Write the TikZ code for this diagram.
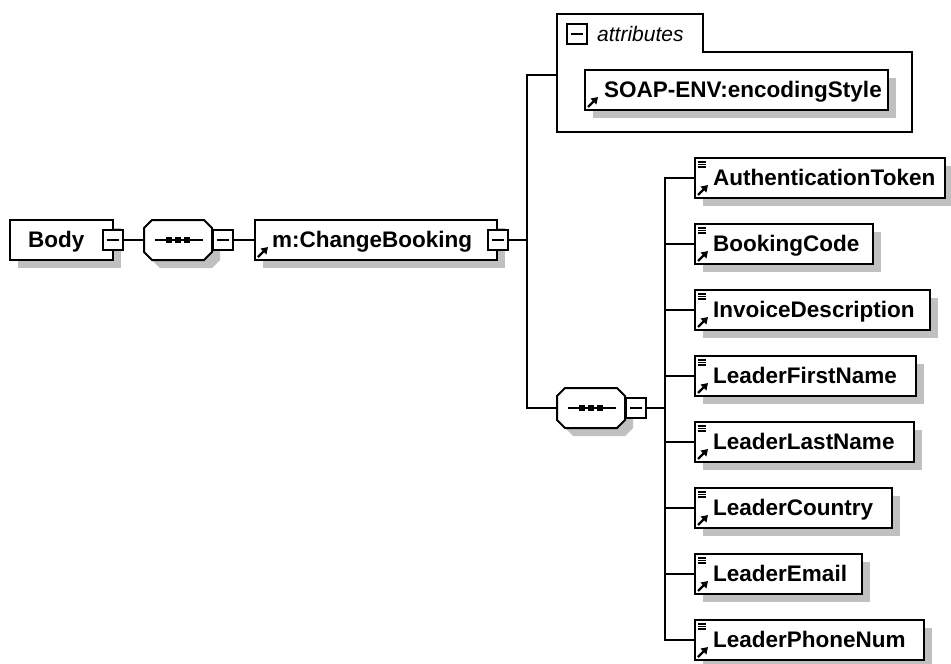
\documentclass[tikz,border=0pt]{standalone}
\usepackage{fontspec}
\setmainfont{Liberation Sans}
\usetikzlibrary{arrows.meta}
\definecolor{shadowc}{RGB}{192,192,192}
\tikzset{
 box/.style={draw=black, fill=white, line width=2pt, inner sep=0pt, outer sep=0pt, minimum height=40pt, anchor=north west},
 lbl/.style={inner sep=0pt, anchor=base west, font=\fontsize{22.5}{27}\selectfont\bfseries},
 attrlbl/.style={inner sep=0pt, anchor=base west, font=\fontsize{21}{25}\selectfont\itshape},
 conn/.style={line width=2pt, draw=black},
 mbox/.style={draw=black, fill=white, line width=2pt, inner sep=0pt, outer sep=0pt, minimum size=20pt},
 refarrow/.style={line width=2.2pt, -{Triangle[length=6.5pt,width=8pt]}},
 lst/.style={line width=1.2pt},
 seqbox/.style={inner sep=0pt, outer sep=0pt, minimum width=68pt, minimum height=40pt},
}
\newcommand\minusbox[3]{%
 \node[mbox] (#1) at (#2,#3) {};
 \draw[line width=1.6pt] ([xshift=4pt]#1.west) -- ([xshift=-4pt]#1.east);}
\newcommand\oct[3]{%
 \path[#3] (#1+8,#2-20) -- (#1+60,#2-20) -- (#1+68,#2-12) -- (#1+68,#2+12) -- (#1+60,#2+20) -- (#1+8,#2+20) -- (#1,#2+12) -- (#1,#2-12) -- cycle;}
\newcommand\seqnode[3]{% name, left x, centre y
 \oct{#2+8}{#3+8}{fill=shadowc}
 \oct{#2}{#3}{draw=black, fill=white, line width=2pt}
 \node[seqbox] (#1) at (#2+34,#3) {};
 \draw[line width=1.6pt] ([xshift=11pt]#1.west) -- ([xshift=-9pt]#1.east);
 \fill ([xshift=-12pt,yshift=3pt]#1.center) rectangle +(6,6);
 \fill ([xshift=-3pt,yshift=3pt]#1.center) rectangle +(6,6);
 \fill ([xshift=6pt,yshift=3pt]#1.center) rectangle +(6,6);}
\newcommand\elem[4]{%
 \fill[shadowc] (703,#2+8) rectangle (703+#3,#2+48);
 \node[box, minimum width=#3pt] (#1) at (695,#2) {};
 \node[lbl] (#1-t) at (713,#2+27) {#4};
 \draw[lst] (698,#2+4) -- (706,#2+4) (698,#2+6.5) -- (706,#2+6.5) (698,#2+9) -- (706,#2+9);
 \draw[refarrow] (698,#2+37) -- (708,#2+27);
 \draw[conn] (j2) |- (#1.west);}
\begin{document}
\begin{tikzpicture}[x=1pt,y=-1pt]
\useasboundingbox (0,0) rectangle (951,664);
% Body
\fill[shadowc] (18,228) rectangle (121,268);
\node[box, minimum width=103pt] (body) at (10,220) {};
\node[lbl] (body-t) at (28,247) {Body};
\minusbox{body-m}{112.5}{240}
% first sequence
\seqnode{seq1}{144}{240}
\minusbox{seq1-m}{223}{240}
% m:ChangeBooking
\fill[shadowc] (263,228) rectangle (505,268);
\node[box, minimum width=242pt] (cb) at (255,220) {};
\node[lbl] (cb-t) at (272,247) {m:ChangeBooking};
\draw[refarrow] (258,257) -- (268,247);
\minusbox{cb-m}{497.5}{240}
% connectors on the left
\draw[conn] (body-m.east) -- (seq1.west);
\draw[conn] (seq1-m.east) -- (cb.west);
\coordinate (j1) at (527,240);
\draw[conn] (cb-m.east) -- (j1);
% attributes group
\draw[line width=2pt, fill=white] (557,14) -- (703,14) -- (703,52) -- (912,52) -- (912,132) -- (557,132) -- cycle;
\coordinate (attr) at (557,75);
\minusbox{attr-m}{577}{34}
\node[attrlbl] (attr-t) at (597,41) {attributes};
\fill[shadowc] (593,78) rectangle (896,118);
\node[box, minimum width=303pt] (soap) at (585,70) {};
\node[lbl] (soap-t) at (604,97) {SOAP-ENV:encodingStyle};
\draw[refarrow] (588,107) -- (598,97);
% second sequence
\seqnode{seq2}{557}{408}
\minusbox{seq2-m}{636}{408}
\draw[conn] (attr) -| (j1) |- (seq2.west);
\coordinate (j2) at (665,408);
\draw[conn] (seq2-m.east) -- (j2);
% child elements
\elem{auth}{158}{250}{AuthenticationToken}
\elem{book}{224}{178}{BookingCode}
\elem{inv}{290}{235}{InvoiceDescription}
\elem{lfn}{356}{221}{LeaderFirstName}
\elem{lln}{422}{219}{LeaderLastName}
\elem{lc}{488}{197}{LeaderCountry}
\elem{le}{554}{167}{LeaderEmail}
\elem{lp}{620}{229}{LeaderPhoneNum}
\end{tikzpicture}
\end{document}
